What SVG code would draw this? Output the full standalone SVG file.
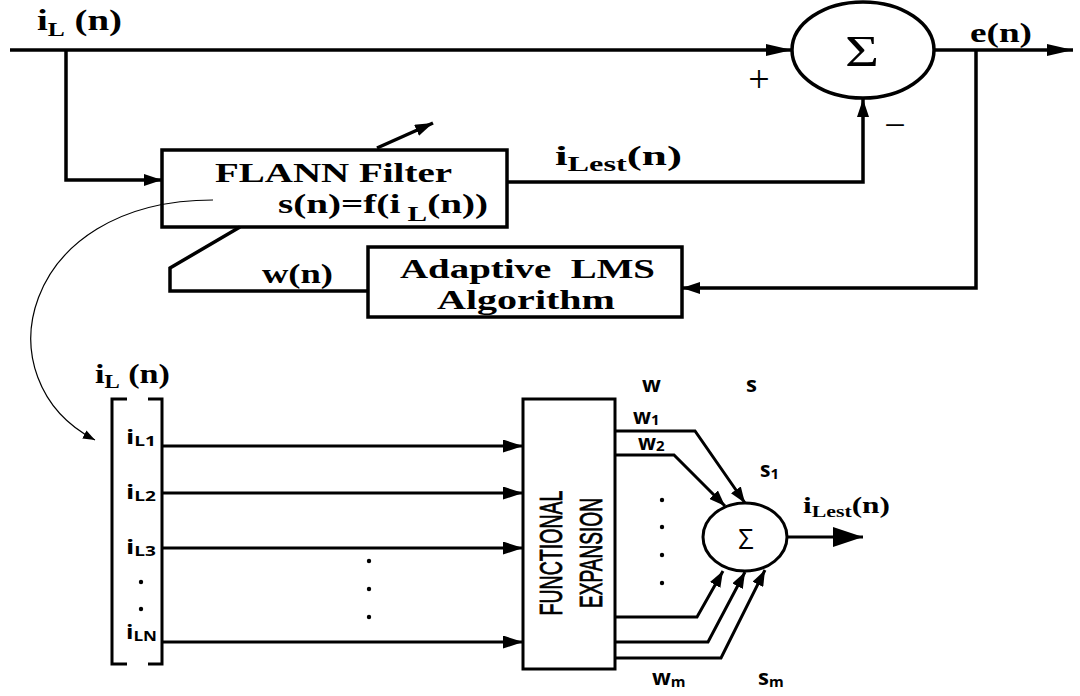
<svg xmlns="http://www.w3.org/2000/svg" width="1080" height="696" viewBox="0 0 1080 696">
<defs>
<style>
.ln{fill:none;stroke:#000;stroke-width:3.5}
.lb{fill:none;stroke:#000;stroke-width:3}
.thin{fill:none;stroke:#000;stroke-width:1.2}
.box{fill:#fff;stroke:#000;stroke-width:3.5}
.serif{font-family:"Liberation Serif","Times New Roman",serif;font-weight:bold;fill:#000}
.sans{font-family:"Open Sans","Liberation Sans",sans-serif;font-weight:bold;fill:#000}
.fe{font-family:"Liberation Sans",Arial,sans-serif;font-size:31px;fill:#000;stroke:#000;stroke-width:0.8}
</style>
<marker id="aL" markerUnits="userSpaceOnUse" markerWidth="26" markerHeight="12" refX="26" refY="6" orient="auto"><path d="M0,0 L26,6 L0,12 z" fill="#000"/></marker>
<marker id="aS" markerUnits="userSpaceOnUse" markerWidth="18" markerHeight="12" refX="18" refY="6" orient="auto"><path d="M0,0 L18,6 L0,12 z" fill="#000"/></marker>
<marker id="aB" markerUnits="userSpaceOnUse" markerWidth="20" markerHeight="13" refX="20" refY="6.5" orient="auto"><path d="M0,0 L20,6.5 L0,13 z" fill="#000"/></marker>
<marker id="aW" markerUnits="userSpaceOnUse" markerWidth="16" markerHeight="12" refX="16" refY="6" orient="auto"><path d="M0,0 L16,6 L0,12 z" fill="#000"/></marker>
<marker id="aO" markerUnits="userSpaceOnUse" markerWidth="30" markerHeight="20" refX="30" refY="10" orient="auto"><path d="M0,0 L30,10 L0,20 z" fill="#000"/></marker>
<marker id="aC" markerUnits="userSpaceOnUse" markerWidth="12" markerHeight="9" refX="12" refY="4.5" orient="auto"><path d="M0,0 L12,4.5 L0,9 z" fill="#000"/></marker>
</defs>
<rect width="1080" height="696" fill="#fff"/>

<g id="input-label">
<text class="serif" x="37" y="30" font-size="29" textLength="85" lengthAdjust="spacingAndGlyphs">i<tspan font-size="19" dy="6">L</tspan><tspan dy="-6"> (n)</tspan></text>
</g>

<g id="sum-top">
<ellipse cx="863" cy="50" rx="71" ry="48" fill="#fff" stroke="#000" stroke-width="3.5"/>
<text x="862" y="66" font-family="Liberation Serif,serif" font-size="44" text-anchor="middle" textLength="34" lengthAdjust="spacingAndGlyphs">Σ</text>
<text x="759" y="92" font-family="Liberation Serif,serif" font-size="38" text-anchor="middle">+</text>
<text x="895" y="138" font-family="Liberation Serif,serif" font-size="38" text-anchor="middle">−</text>
</g>

<g id="error-label">
<text class="serif" x="970" y="42" font-size="27" textLength="62" lengthAdjust="spacingAndGlyphs">e(n)</text>
</g>

<g id="flann-filter">
<rect class="box" x="162" y="150" width="345" height="77"/>
<text class="serif" x="215" y="182" font-size="28" textLength="237" lengthAdjust="spacingAndGlyphs">FLANN Filter</text>
<text class="serif" x="278" y="213" font-size="28" textLength="210" lengthAdjust="spacingAndGlyphs">s(n)=f(i<tspan font-size="21" dy="8"> L</tspan><tspan dy="-8">(n))</tspan></text>
</g>

<g id="iLest-label">
<text class="serif" x="555" y="165" font-size="28" textLength="127" lengthAdjust="spacingAndGlyphs">i<tspan font-size="20" dy="6">Lest</tspan><tspan dy="-6">(n)</tspan></text>
</g>

<g id="wn-label">
<text class="serif" x="262" y="283" font-size="27" textLength="71" lengthAdjust="spacingAndGlyphs">w(n)</text>
</g>

<g id="adaptive-lms">
<rect class="box" x="368" y="247" width="314" height="70"/>
<text class="serif" x="400" y="278" font-size="28" textLength="255" lengthAdjust="spacingAndGlyphs">Adaptive&#160; LMS</text>
<text class="serif" x="437" y="309" font-size="28" textLength="178" lengthAdjust="spacingAndGlyphs">Algorithm</text>
</g>

<g id="input-vector">
<text class="serif" x="95" y="383" font-size="27" textLength="75" lengthAdjust="spacingAndGlyphs">i<tspan font-size="18" dy="5">L</tspan><tspan dy="-5"> (n)</tspan></text>
<path class="lb" d="M127,399 H112 V664 H127 M148,399 H162 V664 H148"/>
<text class="sans" x="126" y="444" font-size="20" textLength="30" lengthAdjust="spacingAndGlyphs">i<tspan font-size="14" dy="2">L1</tspan></text>
<text class="sans" x="126" y="499" font-size="20" textLength="30" lengthAdjust="spacingAndGlyphs">i<tspan font-size="14" dy="2">L2</tspan></text>
<text class="sans" x="126" y="554" font-size="20" textLength="30" lengthAdjust="spacingAndGlyphs">i<tspan font-size="14" dy="2">L3</tspan></text>
<text class="sans" x="126" y="639" font-size="20" textLength="31" lengthAdjust="spacingAndGlyphs">i<tspan font-size="14" dy="2">LN</tspan></text>
<circle cx="141" cy="582" r="2.2"/>
<circle cx="141" cy="609" r="2.2"/>
</g>

<g id="middle-dots">
<circle cx="369" cy="561" r="2.2"/>
<circle cx="369" cy="589" r="2.2"/>
<circle cx="369" cy="617" r="2.2"/>
</g>

<g id="functional-expansion">
<rect fill="#fff" stroke="#000" stroke-width="3" x="523" y="399" width="92" height="270"/>
<text class="fe" transform="translate(562,553) rotate(-90)" text-anchor="middle" textLength="125" lengthAdjust="spacingAndGlyphs">FUNCTIONAL</text>
<text class="fe" transform="translate(602,553) rotate(-90)" text-anchor="middle" textLength="110" lengthAdjust="spacingAndGlyphs">EXPANSION</text>
</g>

<g id="weight-labels">
<text class="sans" x="642" y="392" font-size="22">w</text>
<text class="sans" x="746" y="392" font-size="22">s</text>
<text class="sans" x="633" y="424" font-size="21">w<tspan font-size="15" dy="1">1</tspan></text>
<text class="sans" x="638" y="450" font-size="21">w<tspan font-size="15" dy="1">2</tspan></text>
<text class="sans" x="760" y="477" font-size="21">s<tspan font-size="15" dy="2">1</tspan></text>
<text class="sans" x="652" y="685" font-size="22">w<tspan font-size="15" dy="2">m</tspan></text>
<text class="sans" x="758" y="685" font-size="22">s<tspan font-size="15" dy="2">m</tspan></text>
<circle cx="662" cy="500" r="2.2"/>
<circle cx="662" cy="527" r="2.2"/>
<circle cx="662" cy="555" r="2.2"/>
<circle cx="662" cy="583" r="2.2"/>
</g>

<g id="sum-bottom">
<ellipse cx="745" cy="537" rx="42" ry="34" fill="#fff" stroke="#000" stroke-width="3"/>
<text x="746" y="549" font-family="Open Sans,Liberation Sans,sans-serif" font-size="27" text-anchor="middle">Σ</text>
</g>

<g id="output-label">
<text class="serif" x="803" y="513" font-size="23" textLength="87" lengthAdjust="spacingAndGlyphs">i<tspan font-size="16" dy="4">Lest</tspan><tspan dy="-4">(n)</tspan></text>
</g>

<g id="connectors">
<path class="ln" d="M10,50 H792" marker-end="url(#aL)"/>
<path class="ln" d="M66,50 V180 H162" marker-end="url(#aS)"/>
<path class="ln" d="M507,182 H863 V99" marker-end="url(#aS)"/>
<path class="ln" d="M935,50 H1073" marker-end="url(#aL)"/>
<path class="ln" d="M976,50 V288 H682" marker-end="url(#aS)"/>
<path class="ln" d="M368,291 H170 V268 L240,227"/>
<path class="ln" d="M377,148 L433,123" marker-end="url(#aS)"/>
<path class="thin" d="M213,200 C20,200 -20,380 95,440" marker-end="url(#aC)"/>
<path class="lb" d="M162,446 H523" marker-end="url(#aB)"/>
<path class="lb" d="M162,493 H523" marker-end="url(#aB)"/>
<path class="lb" d="M162,548 H523" marker-end="url(#aB)"/>
<path class="lb" d="M162,642 H523" marker-end="url(#aB)"/>
<path class="lb" d="M615,431 H695 L745,503" marker-end="url(#aW)"/>
<path class="lb" d="M615,455 H674 L725,506" marker-end="url(#aW)"/>
<path class="lb" d="M615,617 H697 L723,571" marker-end="url(#aW)"/>
<path class="lb" d="M615,642 H708 L745,572" marker-end="url(#aW)"/>
<path class="lb" d="M615,658 H721 L765,570" marker-end="url(#aW)"/>
<path class="lb" d="M787,537 H863" marker-end="url(#aO)"/>
</g>
</svg>
